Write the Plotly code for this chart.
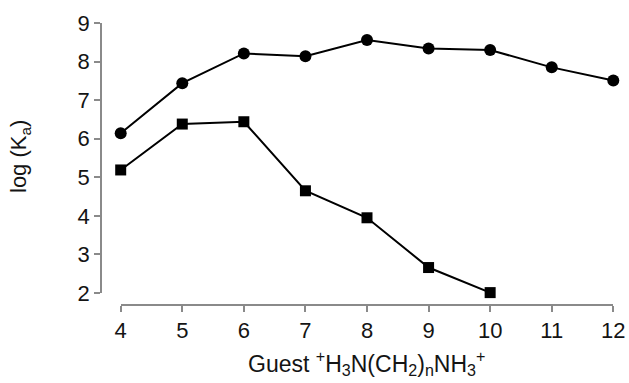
import plotly.graph_objects as go

# Chain length n of the guest diammonium ion
n_circles = [4, 5, 6, 7, 8, 9, 10, 11, 12]
logka_circles = [6.14, 7.44, 8.21, 8.14, 8.56, 8.34, 8.30, 7.85, 7.51]

n_squares = [4, 5, 6, 7, 8, 9, 10]
logka_squares = [5.19, 6.38, 6.44, 4.65, 3.95, 2.66, 2.01]

x_ticks = [4, 5, 6, 7, 8, 9, 10, 11, 12]
y_ticks = [2, 3, 4, 5, 6, 7, 8, 9]

W, H = 629, 383
FONT = "Liberation Sans, Arial, Helvetica, sans-serif"
AXIS_GRAY = "#8a8a8a"
TEXT = "#141414"

fig = go.Figure()
fig.add_trace(go.Scatter(
    x=n_circles, y=logka_circles, mode="lines+markers",
    line=dict(color="black", width=2),
    marker=dict(symbol="circle", size=12, color="black"),
    cliponaxis=False, showlegend=False,
))
fig.add_trace(go.Scatter(
    x=n_squares, y=logka_squares, mode="lines+markers",
    line=dict(color="black", width=2),
    marker=dict(symbol="square", size=11, color="black"),
    cliponaxis=False, showlegend=False,
))

# Detached axes: each axis line spans only its own data range
x_px = (120.7, 613.3)      # horizontal span of x = 4 .. 12
y_px = (23.0, 293.0)       # vertical span of y = 9 .. 2 (from top)
xaxis_y_px = 305.0
yaxis_x_px = 101.0

fig.update_layout(
    width=W, height=H,
    margin=dict(l=0, r=0, t=0, b=0),
    paper_bgcolor="white", plot_bgcolor="white",
    font=dict(family=FONT, color=TEXT),
    xaxis=dict(
        range=[4, 12], domain=[x_px[0] / W, x_px[1] / W],
        anchor="free", position=(H - xaxis_y_px) / H,
        showline=True, linecolor=AXIS_GRAY, linewidth=1.5,
        ticks="outside", ticklen=6, tickwidth=1.5, tickcolor=AXIS_GRAY,
        tickvals=x_ticks, showgrid=False, zeroline=False,
        tickfont=dict(size=22, color=TEXT, family=FONT),
        automargin=False,
    ),
    yaxis=dict(
        range=[2, 9], domain=[(H - y_px[1]) / H, (H - y_px[0]) / H],
        anchor="free", position=yaxis_x_px / W,
        showline=True, linecolor=AXIS_GRAY, linewidth=1.5,
        ticks="outside", ticklen=6, tickwidth=1.5, tickcolor=AXIS_GRAY,
        tickvals=y_ticks, showgrid=False, zeroline=False,
        tickfont=dict(size=22, color=TEXT, family=FONT),
        automargin=False,
    ),
    annotations=[
        dict(
            text="Guest <sup>+</sup>H<sub>3</sub>N(CH<sub>2</sub>)<sub>n</sub>NH<sub>3</sub><sup>+</sup>",
            xref="paper", yref="paper", x=366 / W, y=(H - 363) / H,
            xanchor="center", yanchor="middle", showarrow=False,
            font=dict(size=23, color=TEXT, family=FONT),
        ),
        dict(
            text="log (K<sub>a</sub>)",
            xref="paper", yref="paper", x=20 / W, y=(H - 157) / H,
            xanchor="center", yanchor="middle", showarrow=False,
            textangle=-90,
            font=dict(size=22, color=TEXT, family=FONT),
        ),
    ],
)

fig.write_html("out.html")
